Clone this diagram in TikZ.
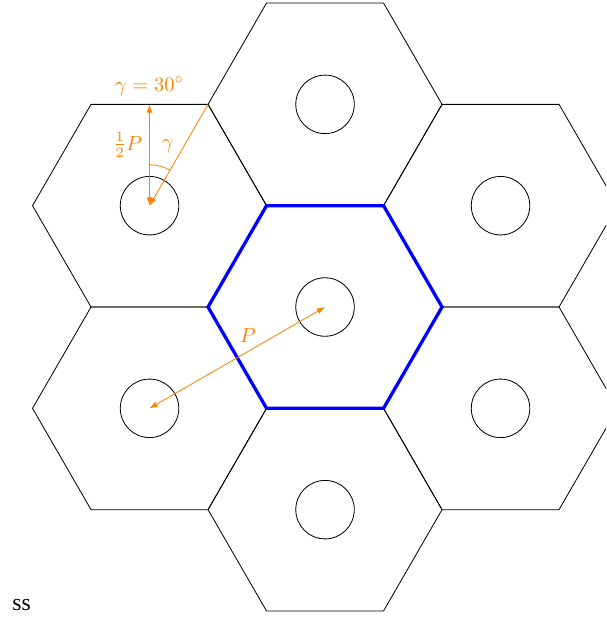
\documentclass[tikz,border=0pt]{standalone}
\usepackage{fontspec}
\usepackage{tikz}
\usetikzlibrary{arrows.meta, positioning, calc, shapes.geometric}
\newfontfamily\capfont{Liberation Serif}

\begin{document}
\begin{tikzpicture}[
      hex/.style={draw, regular polygon, regular polygon sides=6,
        minimum size=4cm, inner sep=0pt, outer sep=0pt},
      mid/.style={hex, draw=blue, ultra thick},
      ring/.style={draw, circle, minimum size=1cm, inner sep=0pt},
      note/.style={orange, font=\normalsize},
      dim/.style={orange, -{Latex[length=1.4mm, width=1mm]}},
      dims/.style={orange, {Latex[length=1.4mm, width=1mm]}-{Latex[length=1.4mm, width=1mm]}},
    ]
    % frame of the picture (right cells run off the page)
    \path[use as bounding box, clip] (-5.556,-5.333) rectangle (4.803,5.248);
    % ring of neighbouring cells
    \foreach \a [count=\i] in {30,90,150,210,270,330} {
      \node[hex] (h\i) at (\a:3.464) {};
      \node[ring] (r\i) at (h\i.center) {};
    }
    % centre cell
    \node[mid] (h0) at (0,0) {};
    \node[ring] (r0) at (h0.center) {};
    % geometry of the top left cell
    \coordinate (tl) at (h3.center);
    \coordinate (tltop) at ($(tl)+(0,1.732)$);
    \coordinate (tlcorner) at ($(tl)+(1,1.732)$);
    \draw[dims]
      (tl) -- node[note, left, pos=0.6] {$\frac{1}{2}P$} (tltop)
      node[note, above=1pt] (lgam) {$\gamma = 30^\circ$};
    \draw[dim] (tlcorner) -- (tl);
    \draw[orange] ($(tl)+(90:0.7)$) arc (90:60:0.7);
    \node[note] (gam) at ($(tl)+(73:1.07)$) {$\gamma$};
    % distance between two centres
    \draw[dims]
      (h4.center) -- node[note, above=1pt, pos=0.56] {$P$} (h0.center);
    % caption
    \node[anchor=base west, inner sep=0pt, font=\capfont\fontsize{11.5}{13}\selectfont]
      (cap) at (-5.35,-5.19) {ss};
  \end{tikzpicture}
\end{document}
